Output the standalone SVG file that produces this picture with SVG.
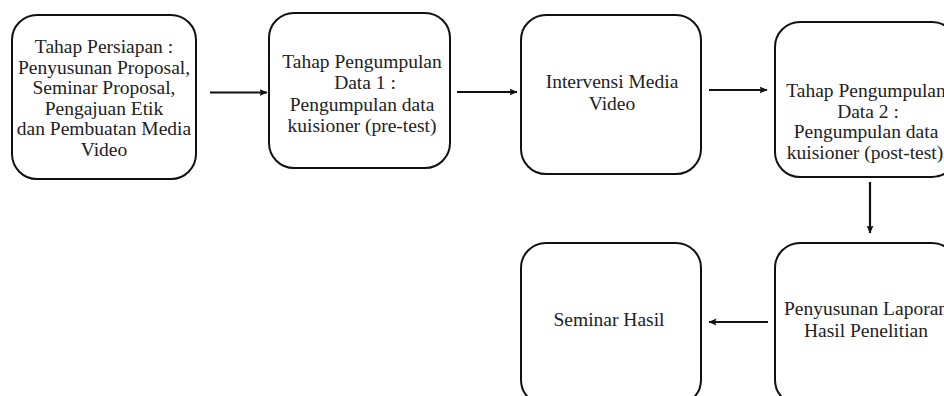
<svg xmlns="http://www.w3.org/2000/svg" width="944" height="396" viewBox="0 0 944 396">
<defs>
<style>
.box{fill:#fff;stroke:#111;stroke-width:2}
.t{font-family:"Liberation Serif","Times New Roman",serif;font-size:19.5px;fill:#222;text-anchor:middle}
.c{stroke:#111;stroke-width:2.2;fill:none}
</style>
<marker id="ah" viewBox="0 0 8 8" refX="7.5" refY="4" markerWidth="8" markerHeight="8" markerUnits="userSpaceOnUse" orient="auto">
<path d="M0,0.5 L8,4 L0,7.5 L1.5,4 Z" fill="#111"/>
</marker>
</defs>
<rect width="944" height="396" fill="#fff"/>
<g id="node1">
<rect class="box" x="12" y="15" width="184" height="164" rx="25" ry="25"/>
<text class="t" x="104" y="53">Tahap Persiapan :</text>
<text class="t" x="104" y="73.5">Penyusunan Proposal,</text>
<text class="t" x="104" y="94">Seminar Proposal,</text>
<text class="t" x="104" y="114.5">Pengajuan Etik</text>
<text class="t" x="104" y="135">dan Pembuatan Media</text>
<text class="t" x="104" y="155.5">Video</text>
</g>
<g id="node2">
<rect class="box" x="269" y="13" width="181" height="155" rx="25" ry="25"/>
<text class="t" x="362" y="68">Tahap Pengumpulan</text>
<text class="t" x="365" y="89">Data 1  :</text>
<text class="t" x="362" y="110.5">Pengumpulan data</text>
<text class="t" x="362" y="132">kuisioner (pre-test)</text>
</g>
<g id="node3">
<rect class="box" x="521" y="15" width="180" height="159" rx="25" ry="25"/>
<text class="t" x="612" y="88">Intervensi Media</text>
<text class="t" x="612" y="110">Video</text>
</g>
<g id="node4">
<rect class="box" x="775" y="22" width="182" height="155" rx="25" ry="25"/>
<text class="t" x="866" y="97">Tahap Pengumpulan</text>
<text class="t" x="868" y="117.5">Data 2 :</text>
<text class="t" x="866" y="138">Pengumpulan data</text>
<text class="t" x="865" y="158.5">kuisioner (post-test)</text>
</g>
<g id="node5">
<rect class="box" x="521" y="243" width="180" height="162" rx="25" ry="25"/>
<text class="t" x="609" y="326">Seminar Hasil</text>
</g>
<g id="node6">
<rect class="box" x="775" y="243" width="182" height="162" rx="25" ry="25"/>
<text class="t" x="866" y="315">Penyusunan Laporan</text>
<text class="t" x="866" y="337">Hasil Penelitian</text>
</g>
<g id="connectors">
<line class="c" x1="210" y1="92.5" x2="267" y2="92.5" marker-end="url(#ah)"/>
<line class="c" x1="457" y1="92" x2="517" y2="92" marker-end="url(#ah)"/>
<line class="c" x1="709" y1="90" x2="767" y2="90" marker-end="url(#ah)"/>
<line class="c" x1="870" y1="182" x2="870" y2="233" marker-end="url(#ah)"/>
<line class="c" x1="768" y1="322" x2="709" y2="322" marker-end="url(#ah)"/>
</g>
</svg>
